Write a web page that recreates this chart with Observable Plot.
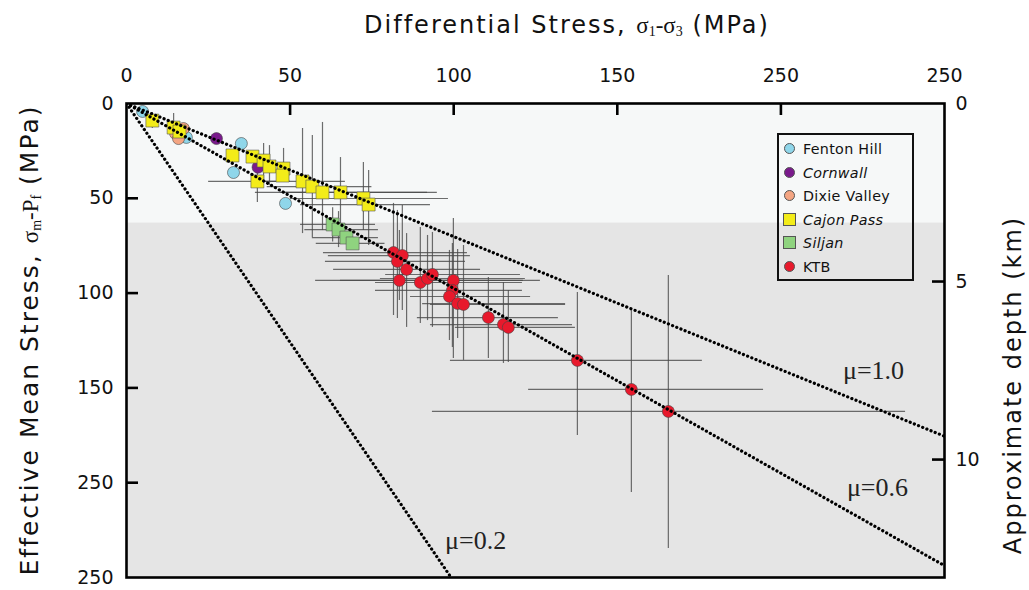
<!DOCTYPE html>
<html><head><meta charset="utf-8">
<script src="https://cdn.jsdelivr.net/npm/d3@7"></script>
<script src="https://cdn.jsdelivr.net/npm/@observablehq/plot@0.6"></script>
<style>
body{margin:0;background:#fff;}
#wrap{position:relative;width:1029px;height:590px;overflow:hidden;font-family:"DejaVu Sans",sans-serif;color:#111;}
#wrap svg{position:absolute;left:0;top:0;}
.ttl{position:absolute;white-space:nowrap;font-size:24px;letter-spacing:2px;}
.gr{font-family:"Liberation Serif",serif;font-size:23px;letter-spacing:0;}
.gr sub{font-size:14px;vertical-align:-3px;}
#legend{position:absolute;left:777px;top:133px;width:133px;height:144px;border:2.5px solid #111;}
.li{position:absolute;left:0;height:20px;font-size:14.3px;line-height:20px;letter-spacing:0.3px;}
.sym{position:absolute;left:5px;top:4px;width:11px;height:11px;border:0.6px solid #555;box-sizing:border-box;}
.lt{position:absolute;left:24px;top:0;white-space:nowrap;}
</style></head><body><div id="wrap"></div>
<script>
// ---- axis ticks ----
const xTicks = [0, 50, 100, 150, 200, 250];
const xTickLabels = ["0", "50", "100", "150", "250", "250"];
const yTicks = [0, 50, 100, 150, 200, 250];
const yTickLabels = ["0", "50", "100", "150", "250", "250"];
const depthTicksKm = [0, 5, 10];
const mpaPerKm = 18.78;            // depth axis conversion
const shallowZone = [0, 63];       // lighter upper band (MPa)
const deepZone = [63, 250];

// ---- friction lines ----
const muNames = ["μ=1.0", "μ=0.6", "μ=0.2"];
const muSlopes = [0.702, 0.975, 2.52];
const muLabelX = [228.3, 229.5, 106.7];
const muLabelY = [140.8, 202.5, 230.5];

// ---- sites ----
const siteNames = ["Fenton Hill", "Cornwall", "Dixie Valley", "Cajon Pass", "Siljan", "KTB"];
const siteColors = ["#8fd6ea", "#7a1a8c", "#f4a582", "#f3ec19", "#8fd37f", "#e8192c"];
const siteShapes = ["circle", "circle", "circle", "square", "square", "circle"];
const siteItalic = [false, true, false, true, true, false];

// [x, y, xlo, xhi, ylo, yhi]
const fentonHill = [[4.9,4.2],[18.3,17.9],[35.1,21.1],[32.7,36.4],[48.6,52.7]];
const cornwall = [[27.5,18.5],[40.2,33.6]];
const dixieValley = [[15.0,15.8],[15.9,18.5],[17.4,13.2]];
const cajonPass = [
  [7.9,9.0,null,null,4.7,13.2],
  [14.4,12.7,null,null,5.3,19.5],
  [16.2,14.8],
  [32.4,27.4],
  [38.5,28.0],
  [41.9,30.1,null,null,21.1,40.6],
  [43.7,33.2,null,null,22.2,43.2],
  [48.0,34.3,null,null,23.7,38.0],
  [47.7,38.0],
  [40.0,41.1,25.1,50.1,32.7,52.2],
  [53.8,41.1,39.4,66.9,13.2,68.6],
  [56.8,43.8,43.0,75.0,16.9,70.7],
  [59.9,46.9,39.4,95.0,10.0,67.0],
  [65.4,46.9,47.1,92.0,28.5,70.7],
  [72.4,50.1,50.1,98.4,31.1,67.0],
  [74.0,53.3,53.2,92.9,35.3,74.9]
];
const siljan = [
  [63.0,63.8,53.2,76.1,55.0,73.0],
  [64.8,66.5,54.5,77.0,57.0,76.0],
  [67.2,70.7,56.8,77.0],
  [69.1,73.8,58.0,79.0]
];
const ktb = [
  [81.6,78.6,60.2,104.2,52.7,111.8],
  [84.3,80.2,61.7,105.1,53.8,109.2],
  [82.8,83.3,60.8,103.6,56.4,113.4],
  [85.6,87.5,63.3,108.2,68.6,118.1],
  [83.4,93.3,57.8,121.3,67.0,103.9],
  [89.8,94.4,76.1,121.0,65.4,116.0],
  [92.0,92.3,77.6,121.9,69.6,114.5],
  [93.5,90.2,79.2,120.4,68.0,118.1],
  [99.9,93.3,65.4,126.5,60.6,134.5],
  [99.6,98.6,76.1,121.0,73.8,128.7],
  [98.7,101.8,86.8,123.5,77.5,125.0],
  [101.2,105.5,90.5,134.2,77.0,124.0],
  [103.0,106.0,92.9,134.2,74.9,135.5],
  [110.6,112.9,88.9,132.0,91.8,134.5],
  [115.2,116.6,92.9,136.3,94.4,137.1],
  [116.7,118.1,100.5,137.2,98.6,136.6],
  [137.8,135.5,99.0,176.0,99.7,175.1],
  [154.3,150.8,122.9,194.7,109.2,205.2],
  [165.6,162.4,93.5,238.1,90.7,234.7]
];
const siteData = [fentonHill, cornwall, dixieValley, cajonPass, siljan, ktb];

// ---- build table ----
const points = siteData.flatMap((arr, si) => arr.map(d => ({
  site: siteNames[si], x: d[0], y: d[1],
  xlo: d[2] ?? null, xhi: d[3] ?? null, ylo: d[4] ?? null, yhi: d[5] ?? null,
  color: siteColors[si], shape: siteShapes[si]
})));
const xMax = xTicks[xTicks.length - 1];
const muLines = muSlopes.flatMap((s, i) => [0, xMax].map(x => ({mu: muNames[i], x, y: s * x})));
const muLabels = muNames.map((n, i) => ({n, x: muLabelX[i], y: muLabelY[i]}));

const W = 1029, H = 590, mL = 126, mR = 85, mT = 103, mB = 13;
const frameW = W - mL - mR, frameH = H - mT - mB, tickLen = 12;
const font = "DejaVu Sans, sans-serif";

const plot = Plot.plot({
  width: W, height: H,
  marginLeft: mL, marginRight: mR, marginTop: mT, marginBottom: mB,
  style: {fontFamily: font, fontSize: "19px", background: "transparent", color: "#111"},
  x: {domain: [0, xMax], axis: null},
  y: {domain: [0, yTicks[yTicks.length - 1]], reverse: true, axis: null},
  marks: [
    Plot.rect([shallowZone], {y1: d => d[0], y2: d => d[1], fill: "#f6f8f8"}),
    Plot.rect([deepZone], {y1: d => d[0], y2: d => d[1], fill: "#e5e5e5"}),
    Plot.ruleX(points.filter(d => d.ylo != null), {x: "x", y1: "ylo", y2: "yhi", stroke: "#4a4a4a", strokeOpacity: 0.8, strokeWidth: 1.2}),
    Plot.ruleY(points.filter(d => d.xlo != null), {y: "y", x1: "xlo", x2: "xhi", stroke: "#4a4a4a", strokeOpacity: 0.8, strokeWidth: 1.2}),
    Plot.dot(points.filter(d => d.shape === "circle"), {x: "x", y: "y", r: 6, fill: "color", stroke: "#444", strokeWidth: 0.6}),
    Plot.dot(points.filter(d => d.shape === "square"), {x: "x", y: "y", r: 7.3, symbol: "square", fill: "color", stroke: "#555", strokeWidth: 0.6}),
    Plot.line(muLines, {x: "x", y: "y", z: "mu", stroke: "#000", strokeWidth: 3.2, strokeDasharray: "0.1,4.4", strokeLinecap: "round", clip: true}),
    Plot.text(muLabels, {x: "x", y: "y", text: "n", fontFamily: "Liberation Serif, serif", fontSize: 26, fill: "#222"}),
    Plot.frame({stroke: "#000", strokeWidth: 2.6}),
    Plot.tickX(xTicks.slice(1, -1), {x: d => d, insetBottom: frameH - tickLen, stroke: "#000", strokeWidth: 2.6}),
    Plot.tickY(yTicks.slice(1, -1), {y: d => d, insetRight: frameW - tickLen, stroke: "#000", strokeWidth: 2.6}),
    Plot.tickY(depthTicksKm.slice(1).map(k => k * mpaPerKm), {y: d => d, insetLeft: frameW - tickLen, stroke: "#000", strokeWidth: 2.6}),
    Plot.axisX(xTicks, {anchor: "top", tickSize: 0, tickPadding: 22, tickFormat: (d, i) => xTickLabels[i], fontSize: 19, label: null}),
    Plot.axisY(yTicks, {anchor: "left", tickSize: 0, tickPadding: 13, tickFormat: (d, i) => yTickLabels[i], fontSize: 19, label: null}),
    Plot.axisY(depthTicksKm.map(k => k * mpaPerKm), {anchor: "right", tickSize: 0, tickPadding: 11, tickFormat: (d, i) => String(depthTicksKm[i]), fontSize: 19, label: null})
  ]
});

const wrap = document.getElementById("wrap");
wrap.appendChild(plot);

// titles
const t1 = document.createElement("div");
t1.className = "ttl";
t1.style.left = "567px"; t1.style.top = "25px"; t1.style.transform = "translate(-50%,-50%)";
t1.innerHTML = 'Differential Stress, <span class="gr">σ<sub>1</sub>-σ<sub>3</sub></span> (MPa)';
wrap.appendChild(t1);

const t2 = document.createElement("div");
t2.className = "ttl";
t2.style.fontSize = "25px";
t2.style.left = "30px"; t2.style.top = "340px"; t2.style.transform = "translate(-50%,-50%) rotate(-90deg)";
t2.innerHTML = 'Effective Mean Stress, <span class="gr">σ<sub>m</sub>-P<sub>f</sub></span> (MPa)';
wrap.appendChild(t2);

const t3 = document.createElement("div");
t3.className = "ttl";
t3.style.fontSize = "24px";
t3.style.left = "1013px"; t3.style.top = "385px"; t3.style.transform = "translate(-50%,-50%) rotate(-90deg)";
t3.textContent = "Approximate depth (km)";
wrap.appendChild(t3);

// legend
const lg = document.createElement("div");
lg.id = "legend";
siteNames.forEach((n, i) => {
  const row = document.createElement("div");
  row.className = "li";
  row.style.top = (4 + i * 23.6) + "px";
  const s = document.createElement("div");
  s.className = "sym";
  s.style.background = siteColors[i];
  if (siteShapes[i] === "circle") { s.style.borderRadius = "50%"; }
  else { s.style.width = "13px"; s.style.height = "13px"; s.style.left = "4px"; s.style.top = "3px"; }
  const t = document.createElement("div");
  t.className = "lt";
  t.textContent = n;
  if (siteItalic[i]) t.style.fontStyle = "italic";
  row.appendChild(s); row.appendChild(t);
  lg.appendChild(row);
});
wrap.appendChild(lg);
</script></body></html>
